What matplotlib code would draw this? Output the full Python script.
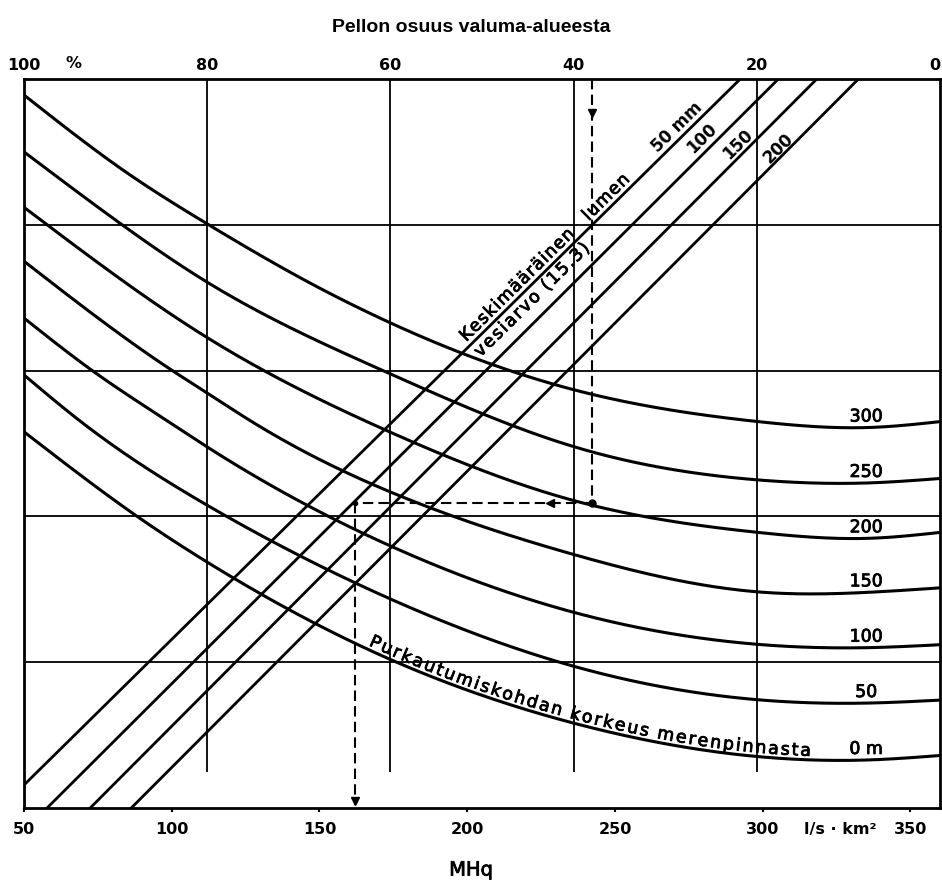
import numpy as np
import matplotlib
matplotlib.use('Agg')
import matplotlib.pyplot as plt
import matplotlib.patheffects as pe
from matplotlib.transforms import blended_transform_factory

plt.rcParams['font.family'] = ['DejaVu Sans']

# korkeuskäyrät: MHq (l/s km2) ja nomogrammin pystyasema (0..5, ei asteikkoa)
h300_x = [50, 84.6, 111.7, 143.2, 173.7, 235.8, 298.5, 336.4, 360]
h300_y = [4.89, 4.36, 4.01, 3.64, 3.33, 2.87, 2.65, 2.61, 2.65]
h250_x = [50, 83.2, 111.7, 173.7, 235.8, 298.5, 336.4, 360]
h250_y = [4.50, 4.00, 3.61, 2.98, 2.48, 2.25, 2.23, 2.26]
h200_x = [50, 111.7, 173.7, 235.8, 298.5, 336.4, 360]
h200_y = [4.12, 3.23, 2.58, 2.11, 1.89, 1.85, 1.89]
h150_x = [50, 100.2, 111.7, 126.3, 173.7, 235.8, 299.8, 336.4, 360]
h150_y = [3.75, 3.00, 2.85, 2.66, 2.17, 1.74, 1.48, 1.48, 1.51]
h100_x = [50, 73.1, 98.1, 111.7, 173.7, 236.4, 299.8, 336.4, 360]
h100_y = [3.36, 3.00, 2.66, 2.48, 1.80, 1.34, 1.12, 1.10, 1.12]
h50_x = [50, 68.6, 111.7, 174.4, 236.4, 299.8, 336.4, 360]
h50_y = [2.97, 2.66, 2.08, 1.43, 0.97, 0.74, 0.72, 0.74]
h0_x = [50, 89.0, 111.7, 176.1, 236.4, 299.8, 336.4, 360]
h0_y = [2.58, 1.99, 1.69, 1.00, 0.58, 0.35, 0.33, 0.36]
height_labels = ['300', '250', '200', '150', '100', '50', '0 m']

# lumen vesiarvo -suorat: MHq alareunassa (taso 0) ja ylareunassa (taso 5)
snow_labels = ['50 mm', '100', '150', '200']
snow_mhq_low = [42.1, 57.8, 72.4, 86.3]
snow_mhq_high = [292.4, 305.3, 318.3, 332.4]

pct_ticks = [100, 80, 60, 40, 20, 0]
pct_lines = [80, 60, 40, 20]
mhq_ticks = [50, 100, 150, 200, 250, 300, 350]

# esimerkki (katkoviiva)
ex_pct = 38
ex_level = 2.09
ex_mhq = 162


def to_pct(m):
    return 100 * (360 - np.asarray(m, dtype=float)) / 310


def to_mhq(p):
    return 360 - 3.1 * np.asarray(p, dtype=float)


def spline(xs, ys, n=500):
    # luonnollinen kuutiosplini piirtoa varten
    x = np.asarray(xs, float)
    y = np.asarray(ys, float)
    k = len(x)
    h = np.diff(x)
    A = np.zeros((k, k))
    b = np.zeros(k)
    A[0, 0] = A[-1, -1] = 1
    for i in range(1, k - 1):
        A[i, i - 1] = h[i - 1]
        A[i, i] = 2 * (h[i - 1] + h[i])
        A[i, i + 1] = h[i]
        b[i] = 3 * ((y[i + 1] - y[i]) / h[i] - (y[i] - y[i - 1]) / h[i - 1])
    c = np.linalg.solve(A, b)
    bc = (y[1:] - y[:-1]) / h - h * (2 * c[:-1] + c[1:]) / 3
    d = (c[1:] - c[:-1]) / (3 * h)
    xx = np.linspace(x[0], x[-1], n)
    i = np.clip(np.searchsorted(x, xx) - 1, 0, k - 2)
    dx = xx - x[i]
    return xx, y[i] + bc[i] * dx + c[i] * dx ** 2 + d[i] * dx ** 3


def text_along(ax, xs, ys, s, x_first, x_last, offset, **kw):
    tr = ax.transData
    pts = tr.transform(np.column_stack([xs, ys]))
    dist = np.concatenate([[0], np.cumsum(np.hypot(*np.diff(pts, axis=0).T))])
    d0 = np.interp(tr.transform((x_first, 0))[0], pts[:, 0], dist)
    d1 = np.interp(tr.transform((x_last, 0))[0], pts[:, 0], dist)
    r = ax.figure.canvas.get_renderer()
    w = []
    for ch in s:
        t = ax.text(0, 0, ch if ch != ' ' else 'i', **kw)
        w.append(t.get_window_extent(r).width)
        t.remove()
    w = np.array(w)
    half = (w[:-1] + w[1:]) / 2
    gap = (d1 - d0 - half.sum()) / (len(s) - 1)
    centers = d0 + np.concatenate([[0], np.cumsum(half + gap)])
    for ch, c in zip(s, centers):
        if ch == ' ':
            continue
        x = np.interp(c, dist, pts[:, 0])
        y = np.interp(c, dist, pts[:, 1])
        dx = np.interp(c + 3, dist, pts[:, 0]) - np.interp(c - 3, dist, pts[:, 0])
        dy = np.interp(c + 3, dist, pts[:, 1]) - np.interp(c - 3, dist, pts[:, 1])
        nrm = np.hypot(dx, dy)
        px, py = x - offset * dy / nrm, y + offset * dx / nrm
        xd, yd = tr.inverted().transform((px, py))
        ax.text(xd, yd, ch, rotation=np.degrees(np.arctan2(dy, dx)),
                rotation_mode='anchor', ha='center', va='baseline', **kw)


fig = plt.figure(figsize=(9.42, 8.84), dpi=100)
ax = fig.add_axes([24 / 942, 76 / 884, 916 / 942, 729 / 884])
ax.set_xlim(50, 360)
ax.set_ylim(0, 5)

for sp in ax.spines.values():
    sp.set_linewidth(2)

thick = [pe.withStroke(linewidth=0.6, foreground='black')]

# vaakaviivat
ax.set_yticks([1, 2, 3, 4])
ax.tick_params(axis='y', length=0, labelleft=False)
ax.grid(axis='y', color='black', linewidth=1.3)

# pystyviivat pellon osuuden kohdalla
ax.vlines(to_mhq(pct_lines), 0.25, 5, color='black', linewidth=1.3)

# alempi akseli
ax.set_xticks(mhq_ticks)
ax.set_xticklabels([str(v) for v in mhq_ticks], fontsize=11.5, fontweight='bold')
ax.tick_params(axis='x', direction='out', length=3, width=1.5, pad=7)

# ylempi akseli
secax = ax.secondary_xaxis('top', functions=(to_pct, to_mhq))
secax.set_xticks(pct_ticks)
secax.set_xticklabels([str(v) for v in pct_ticks], fontsize=11.5, fontweight='bold')
secax.tick_params(length=0, pad=4)
secax.spines['top'].set_visible(False)
secax.get_xticklabels()[-1].set_horizontalalignment('right')

btr = blended_transform_factory(ax.transData, ax.transAxes)
ax.text(66.6, 1.0115, '%', transform=btr, ha='center', va='bottom',
        fontsize=11.5, fontweight='bold')
ax.text(326.3, -0.0295, 'l/s · km²', transform=btr, ha='center', va='center',
        fontsize=11.5, fontweight='bold')

# korkeuskäyrät
curves = [(h300_x, h300_y), (h250_x, h250_y), (h200_x, h200_y), (h150_x, h150_y),
          (h100_x, h100_y), (h50_x, h50_y), (h0_x, h0_y)]
smoothed = []
for (cx, cy), lab in zip(curves, height_labels):
    sx, sy = spline(cx, cy)
    smoothed.append((sx, sy))
    ax.plot(sx, sy, color='black', linewidth=2.2)
    ax.annotate(lab, xy=(335, np.interp(335, sx, sy)), xytext=(0, 1.5),
                textcoords='offset points', ha='center', va='bottom', fontsize=12.5,
                path_effects=thick)

# lumen vesiarvo -suorat
for lo, hi in zip(snow_mhq_low, snow_mhq_high):
    ax.plot([lo, hi], [0, 5], color='black', linewidth=2.0)

ang = np.degrees(np.arctan2(*(ax.transData.transform((snow_mhq_high[0], 5))
                              - ax.transData.transform((snow_mhq_low[0], 0)))[::-1]))
snow_label_pos = [(271.0, 4.67), (279.5, 4.595), (291.7, 4.554), (305.3, 4.527)]
for lab, (lx, ly) in zip(snow_labels, snow_label_pos):
    ax.text(lx, ly, lab, rotation=ang, rotation_mode='anchor', ha='center',
            va='center', fontsize=12, fontweight='bold')

kw = dict(fontsize=12.5, path_effects=thick)
text_along(ax, [snow_mhq_low[0], snow_mhq_high[0]], [0, 5], 'Keskimääräinen',
           202.2, 236.4, 5, **kw)
text_along(ax, [snow_mhq_low[0], snow_mhq_high[0]], [0, 5], 'lumen',
           242.9, 255.1, 5, **kw)
text_along(ax, [snow_mhq_low[0], snow_mhq_high[0]], [0, 5], 'vesiarvo (15.3)',
           201.9, 237.1, -16, **kw)
sx0, sy0 = smoothed[-1]
text_along(ax, sx0, sy0, 'Purkautumiskohdan korkeus merenpinnasta',
           167.6, 314.4, 4, **kw)

# esimerkki
ex_top = to_mhq(ex_pct)
dash = dict(color='black', linewidth=1.5, dashes=(5, 2.5))
ax.plot([ex_top, ex_top], [5, ex_level], **dash)
ax.plot([ex_top, ex_mhq], [ex_level, ex_level], **dash)
ax.plot([ex_mhq, ex_mhq], [ex_level, 0.02], **dash)
ax.plot([ex_top], [ex_level], 'o', color='black', markersize=5)
ax.plot([ex_mhq], [ex_level], 'o', color='black', markersize=3)
ax.plot([ex_top], [4.77], 'v', color='black', markersize=6)
ax.plot([228], [ex_level], '<', color='black', markersize=6)
ax.plot([ex_mhq], [0.05], 'v', color='black', markersize=6)

fig.text(0.5, 1 - 27 / 884, 'Pellon osuus valuma-alueesta', ha='center', va='center',
         fontsize=14, fontweight='bold', family='Liberation Sans')
fig.text(0.5, 1 - 870 / 884, 'MHq', ha='center', va='center', fontsize=14,
         path_effects=thick)

fig.savefig('out.png', dpi=100)
